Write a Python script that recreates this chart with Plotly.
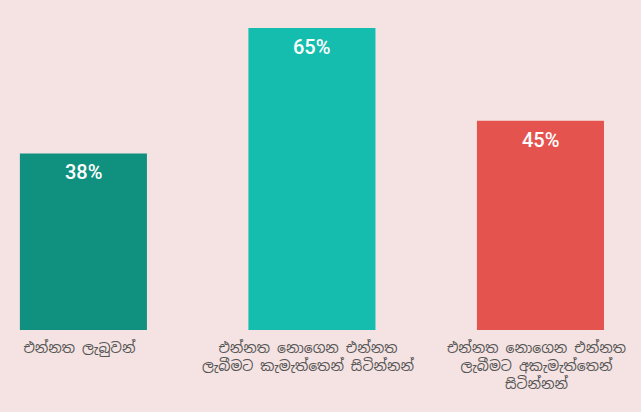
import plotly.graph_objects as go

categories = [
    "එන්නත ලැබුවන්",
    "එන්නත නොගෙන එන්නත<br>ලැබීමට කැමැත්තෙන් සිටින්නන්",
    "එන්නත නොගෙන එන්නත<br>ලැබීමට අකැමැත්තෙන්<br>සිටින්නන්",
]
values = [38, 65, 45]
value_labels = ["38%", "65%", "45%"]
colors = ["#10917f", "#15bdae", "#e5534f"]

fig = go.Figure()
fig.add_trace(go.Bar(
    x=list(range(len(categories))),
    y=values,
    marker=dict(color=colors, line=dict(width=0)),
    width=0.556,
    hoverinfo="skip",
))

for i, (v, t) in enumerate(zip(values, value_labels)):
    fig.add_annotation(
        x=i, y=v, text=t, showarrow=False,
        yanchor="middle", yshift=-19,
        font=dict(family="Roboto, sans-serif", size=20, color="white", weight=500),
    )

fig.update_layout(
    width=641, height=412,
    margin=dict(l=0, r=0, t=0, b=82),
    paper_bgcolor="#f4e3e2",
    plot_bgcolor="#f4e3e2",
    showlegend=False,
    xaxis=dict(
        range=[-0.365, 2.44],
        tickmode="array",
        tickvals=list(range(len(categories))),
        ticktext=categories,
        tickfont=dict(family="Noto Sans Sinhala, Iskoola Pota, sans-serif", size=14, color="#555555"),
        ticklabelshift=-4,
        ticklabelstandoff=8,
        showgrid=False, zeroline=False, showline=False, ticks="",
    ),
    yaxis=dict(range=[0, 71], visible=False, showgrid=False, zeroline=False),
)

fig.write_html(
    "out.html",
    config={"displayModeBar": False},
    post_script="document.body.style.margin='0';document.body.style.overflow='hidden';",
)
